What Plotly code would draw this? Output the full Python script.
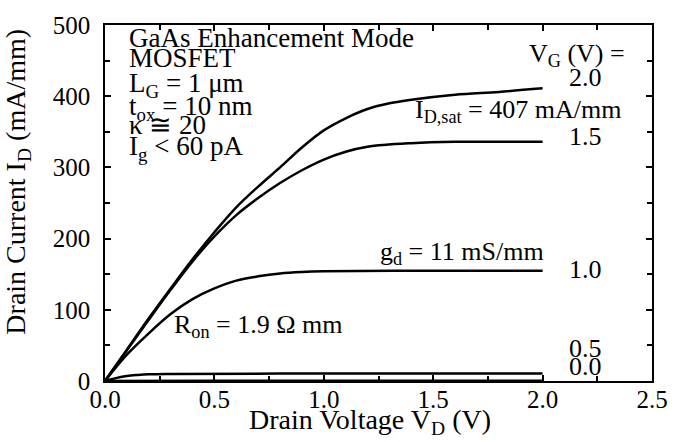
import plotly.graph_objects as go

# Drain voltage grids and drain currents (mA/mm) per gate voltage
vd_20 = [0, 0.1, 0.2, 0.3, 0.4, 0.5, 0.6, 0.7, 0.8, 0.9, 1.0, 1.1, 1.2, 1.3, 1.4, 1.6, 1.8, 2.0]
id_20 = [0, 44, 88, 130, 171, 209, 244, 273, 300, 328, 352, 369, 382, 390, 395, 402, 406, 411]

vd_15 = [0, 0.1, 0.2, 0.3, 0.4, 0.5, 0.6, 0.7, 0.8, 0.9, 1.0, 1.1, 1.2, 1.4, 1.6, 1.8, 2.0]
id_15 = [0, 43, 86, 128, 168, 203, 233, 257, 278, 296, 311, 322, 329, 334, 336, 336, 336]

vd_10 = [0, 0.1, 0.2, 0.3, 0.4, 0.5, 0.6, 0.7, 0.8, 0.9, 1.0, 1.5, 2.0]
id_10 = [0, 37, 67, 94, 115, 130, 141, 147, 151, 153, 154, 155, 155]

vd_05 = [0, 0.05, 0.1, 0.15, 0.2, 0.3, 1.0, 2.0]
id_05 = [0, 4, 7, 8.5, 9.5, 10, 10.5, 10.5]

vd_00 = [0, 0.5, 1.0, 2.0]
id_00 = [0, 0.3, 0.4, 0.5]

x_ticks = [0.0, 0.5, 1.0, 1.5, 2.0, 2.5]
y_ticks = [0, 100, 200, 300, 400, 500]

FONT = "Liberation Serif"

fig = go.Figure()
for xs, ys in [(vd_20, id_20), (vd_15, id_15), (vd_10, id_10), (vd_05, id_05), (vd_00, id_00)]:
    fig.add_trace(go.Scatter(x=xs, y=ys, mode="lines",
                             line=dict(color="black", width=2.5, shape="spline", smoothing=1.0),
                             showlegend=False, hoverinfo="skip"))

axis_common = dict(
    showgrid=False, zeroline=False, showline=True, linecolor="black", linewidth=1.5,
    mirror="allticks", ticks="inside", ticklen=6, tickwidth=1.5, tickcolor="black",
    tickfont=dict(family=FONT, size=25, color="black"),
)

fig.update_xaxes(range=[0, 2.5], tickvals=x_ticks, ticktext=[f"{v:.1f}" for v in x_ticks],
                 minor=dict(ticks="inside", dtick=0.25, ticklen=5, tickwidth=1.5, tickcolor="black"),
                 ticklabelstandoff=-5, **axis_common)
fig.update_yaxes(range=[0, 500], tickvals=y_ticks, ticktext=[str(v) for v in y_ticks],
                 minor=dict(ticks="inside", dtick=50, ticklen=5, tickwidth=1.5, tickcolor="black"),
                 ticklabelstandoff=8, **axis_common)

ann = []
def txt(x, y, s, xanchor="left", size=26, xref="x", yref="y", angle=0):
    ann.append(dict(x=x, y=y, xref=xref, yref=yref, text=s, showarrow=False, xanchor=xanchor,
                    yanchor="middle", textangle=angle, font=dict(family=FONT, size=size, color="black")))

# info block
txt(0.10, 482, "GaAs Enhancement Mode", size=27)
txt(0.10, 454, "MOSFET", size=27)
txt(0.10, 416, "L<sub>G</sub> = 1 μm", size=27)
txt(0.10, 384, "t<sub>ox</sub> = 10 nm", size=27)
txt(0.10, 360, "κ ≅ 20", size=27)
txt(0.10, 327, "I<sub>g</sub> < 60 pA", size=27)

# right labels
txt(2.385, 458, "V<sub>G</sub> (V) =", xanchor="right")
txt(2.198, 426, "2.0", xanchor="center")
txt(2.368, 379, "I<sub>D,sat</sub> = 407 mA/mm", xanchor="right")
txt(2.198, 343, "1.5", xanchor="center")
txt(2.015, 180, "g<sub>d</sub> = 11 mS/mm", xanchor="right")
txt(2.198, 156, "1.0", xanchor="center")
txt(2.198, 45, "0.5", xanchor="center")
txt(2.198, 20, "0.0", xanchor="center")
txt(0.306, 77, "R<sub>on</sub> = 1.9 Ω mm")

# axis titles
txt(-0.159, 0.56, "Drain Current I<sub>D</sub> (mA/mm)", xanchor="center", xref="paper", yref="paper", angle=-90, size=28)
txt(0.4845, -0.115, "Drain Voltage V<sub>D</sub> (V)", xanchor="center", xref="paper", yref="paper", size=28)

fig.update_layout(
    width=684, height=442, margin=dict(l=105, r=32, t=21, b=61),
    paper_bgcolor="white", plot_bgcolor="white", annotations=ann, showlegend=False,
)

fig.write_html("out.html")
